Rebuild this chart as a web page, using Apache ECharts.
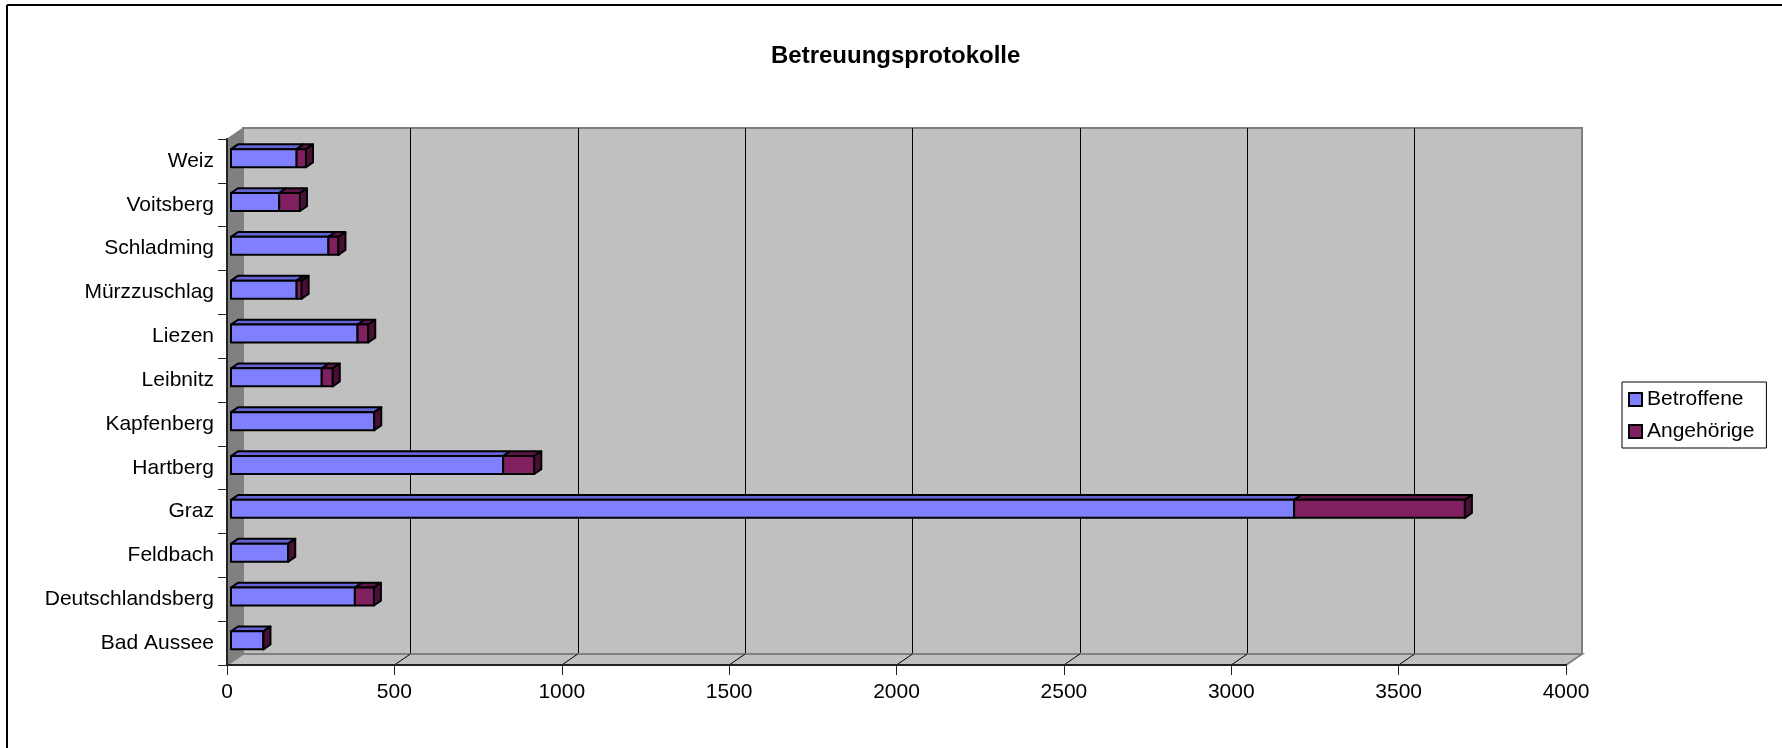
<!DOCTYPE html>
<html>
<head>
<meta charset="utf-8">
<script src="https://cdn.jsdelivr.net/npm/echarts@6/dist/echarts.min.js"></script>
<style>
  html, body { margin: 0; padding: 0; background: #fff; }
  #chart { width: 1782px; height: 748px; }
</style>
</head>
<body>
<div id="chart"></div>
<script>
// ---- data ----
const categories = ['Bad Aussee', 'Deutschlandsberg', 'Feldbach', 'Graz', 'Hartberg', 'Kapfenberg',
                    'Leibnitz', 'Liezen', 'Mürzzuschlag', 'Schladming', 'Voitsberg', 'Weiz'];
const betroffene  = [97, 370, 171, 3176, 813, 428, 271, 378, 196, 291, 144, 196];
const angehoerige = [0, 57, 0, 510, 93, 0, 33, 32, 15, 30, 62, 28];
const seriesNames = ['Betroffene', 'Angehörige'];
const xTicks = [0, 500, 1000, 1500, 2000, 2500, 3000, 3500, 4000];
const chartTitle = 'Betreuungsprotokolle';

// ---- styles ----
const FONT = '"Liberation Sans", Arial, sans-serif';
const DEPTH = { dx: 16, dy: -11 };          // 3D depth offset of the back wall
const BAR_FRONT = 0.25;                       // bar front face position within depth
const BAR_DEPTH = { dx: 7, dy: -4.8 };        // depth of each bar
const BAR_H = 18;
const C = {
  blue: '#8080ff', blueTop: '#6464d4',
  purple: '#802060', purpleTop: '#5e1646', purpleEnd: '#4a0f36',
  wall: '#c0c0c0', side: '#808080', edge: '#808080'
};

const barData = categories.map((c, i) => [i, betroffene[i], angehoerige[i]]);

function barGeom(api, start, end) {
  const cat = api.value(0);
  const p0 = api.coord([start, cat]);
  const p1 = api.coord([end, cat]);
  const fx = DEPTH.dx * BAR_FRONT, fy = DEPTH.dy * BAR_FRONT;
  const x0 = p0[0] + fx, x1 = p1[0] + fx;
  const yt = p0[1] + fy - BAR_H / 2, yb = p0[1] + fy + BAR_H / 2;
  return { x0, x1, yt, yb };
}
function faces(g, front, top) {
  const s = { stroke: '#000', lineWidth: 2, lineJoin: 'round' };
  return [
    { type: 'polygon', shape: { points: [[g.x0, g.yt], [g.x1, g.yt], [g.x1 + BAR_DEPTH.dx, g.yt + BAR_DEPTH.dy], [g.x0 + BAR_DEPTH.dx, g.yt + BAR_DEPTH.dy]] },
      style: Object.assign({ fill: top }, s) },
    { type: 'rect', shape: { x: g.x0, y: g.yt, width: g.x1 - g.x0, height: g.yb - g.yt },
      style: Object.assign({ fill: front }, s) }
  ];
}

const option = {
  animation: false,
  backgroundColor: '#fff',
  title: {
    text: chartTitle, left: 766, top: 39,
    textStyle: { fontFamily: FONT, fontSize: 24, fontWeight: 'bold', color: '#000' }
  },
  legend: {
    orient: 'vertical', left: 1622, top: 382,
    padding: [7, 12, 6, 6], itemGap: 11, itemWidth: 13, itemHeight: 13,
    borderColor: '#000', borderWidth: 1, backgroundColor: '#fff',
    textStyle: { fontFamily: FONT, fontSize: 21, color: '#000' },
    data: [
      { name: seriesNames[0], icon: 'rect', itemStyle: { color: C.blue, borderColor: '#000', borderWidth: 2 } },
      { name: seriesNames[1], icon: 'rect', itemStyle: { color: C.purple, borderColor: '#000', borderWidth: 2 } }
    ]
  },
  graphic: [
    { type: 'line', shape: { x1: 7, y1: 5, x2: 1782, y2: 5 }, style: { stroke: '#000', lineWidth: 2 } },
    { type: 'line', shape: { x1: 7, y1: 5, x2: 7, y2: 748 }, style: { stroke: '#000', lineWidth: 2 } }
  ],
  grid: [
    { left: 227 + DEPTH.dx, top: 139 + DEPTH.dy, width: 1339, height: 526, show: true,
      backgroundColor: C.wall, borderColor: C.edge, borderWidth: 2 },
    { left: 227, top: 139, width: 1339, height: 526 }
  ],
  xAxis: [
    { gridIndex: 0, type: 'value', min: xTicks[0], max: xTicks[xTicks.length - 1], interval: xTicks[1] - xTicks[0],
      axisLine: { show: false }, axisTick: { show: false }, axisLabel: { show: false },
      splitLine: { show: true, showMinLine: false, showMaxLine: false, lineStyle: { color: '#000', width: 1 } } },
    { gridIndex: 1, type: 'value', min: xTicks[0], max: xTicks[xTicks.length - 1], interval: xTicks[1] - xTicks[0], z: 5,
      axisLine: { show: true, lineStyle: { color: '#222', width: 2 } },
      axisTick: { show: true, length: 10, lineStyle: { color: '#222', width: 1 } },
      axisLabel: { fontFamily: FONT, fontSize: 21, color: '#000', margin: 17, formatter: function (v) { return String(v); } },
      splitLine: { show: false } }
  ],
  yAxis: [
    { gridIndex: 0, type: 'category', data: categories, show: false },
    { gridIndex: 1, type: 'category', data: categories, z: 5,
      axisLine: { show: true, lineStyle: { color: '#222', width: 2 } },
      axisTick: { show: true, length: 9, lineStyle: { color: '#222', width: 1 } },
      axisLabel: { fontFamily: FONT, fontSize: 21, color: '#000', margin: 13 } }
  ],
  series: [
    { // floor and side wall
      type: 'custom', xAxisIndex: 1, yAxisIndex: 1, z: 1, silent: true,
      data: [[0, 0]],
      renderItem: function (params, api) {
        const cs = params.coordSys;
        const x = cs.x, y = cs.y, w = cs.width, h = cs.height, b = y + h;
        const els = [
          { type: 'polygon', shape: { points: [[x, b], [x + w, b], [x + w + DEPTH.dx, b + DEPTH.dy], [x + DEPTH.dx, b + DEPTH.dy]] },
            style: { fill: C.wall, stroke: C.edge, lineWidth: 2 } },
          { type: 'polygon', shape: { points: [[x, y], [x, b], [x + DEPTH.dx, b + DEPTH.dy], [x + DEPTH.dx, y + DEPTH.dy]] },
            style: { fill: C.side, stroke: C.side, lineWidth: 1 } }
        ];
        xTicks.slice(1, -1).forEach(function (v) {
          const px = api.coord([v, 0])[0];
          els.push({ type: 'line', shape: { x1: px, y1: b, x2: px + DEPTH.dx, y2: b + DEPTH.dy },
                     style: { stroke: '#000', lineWidth: 1 } });
        });
        return { type: 'group', children: els };
      }
    },
    {
      name: seriesNames[0], type: 'custom', xAxisIndex: 1, yAxisIndex: 1, z: 3,
      itemStyle: { color: C.blue },
      encode: { x: 1, y: 0 },
      data: barData,
      renderItem: function (params, api) {
        const g = barGeom(api, 0, api.value(1));
        return { type: 'group', children: faces(g, C.blue, C.blueTop) };
      }
    },
    {
      name: seriesNames[1], type: 'custom', xAxisIndex: 1, yAxisIndex: 1, z: 3,
      itemStyle: { color: C.purple },
      encode: { x: 1, y: 0 },
      data: barData,
      renderItem: function (params, api) {
        const s = api.value(1), e = s + api.value(2);
        const g = barGeom(api, s, e);
        const ch = faces(g, C.purple, C.purpleTop);
        ch.push({ type: 'polygon',
          shape: { points: [[g.x1, g.yt], [g.x1 + BAR_DEPTH.dx, g.yt + BAR_DEPTH.dy], [g.x1 + BAR_DEPTH.dx, g.yb + BAR_DEPTH.dy], [g.x1, g.yb]] },
          style: { fill: C.purpleEnd, stroke: '#000', lineWidth: 2, lineJoin: 'round' } });
        return { type: 'group', children: ch };
      }
    }
  ]
};

const chart = echarts.init(document.getElementById('chart'), null, { renderer: 'canvas' });
chart.setOption(option);
</script>
</body>
</html>
